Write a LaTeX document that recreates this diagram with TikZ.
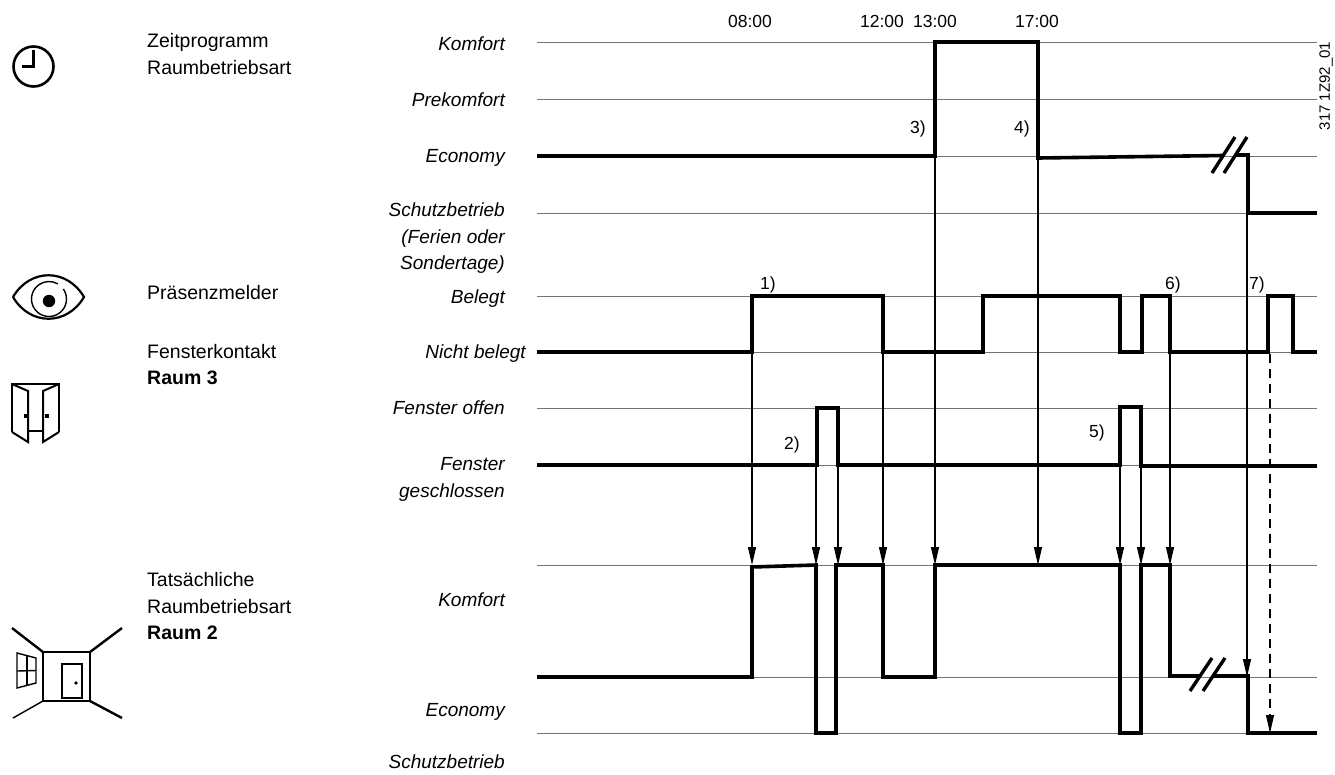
\documentclass[tikz,border=0pt]{standalone}
\usepackage{fontspec}
\setmainfont{Liberation Sans}
\usetikzlibrary{arrows.meta}
\begin{document}
\begin{tikzpicture}[x=1pt,y=-1pt,
  gridline/.style={draw=black!55, line width=1pt},
  sig/.style={draw=black, line width=3.6pt, line join=miter},
  brk/.style={draw=black, line width=3.4pt},
  trig/.style={draw=black, line width=1.1pt, -{Triangle[length=18pt,width=8pt]}},
  trigd/.style={trig, dash pattern=on 9pt off 6pt},
  lvl/.style={font=\fontsize{19}{22}\selectfont\itshape, anchor=base east, inner sep=0pt},
  ttl/.style={font=\fontsize{19.5}{22}\selectfont, anchor=base west, inner sep=0pt},
  tm/.style={font=\fontsize{17.5}{20}\selectfont, anchor=base, inner sep=0pt},
  icon/.style={draw=black, line width=2.6pt, line join=miter},
  thinicon/.style={draw=black, line width=1.4pt}
]
\useasboundingbox (0,0) rectangle (1335,774);

% ---- level lines ----
\foreach \y in {42,99,156,213,296,352,408,465,565,677,733}
  \draw[gridline] (537,\y) -- (1317,\y);

% ---- level names ----
\node[lvl] (zk)  at (505,50)  {Komfort};
\node[lvl] (zp)  at (505,106) {Prekomfort};
\node[lvl] (ze)  at (505,162) {Economy};
\node[lvl] (zs1) at (505,216) {Schutzbetrieb};
\node[lvl] (zs2) at (505,243) {(Ferien oder};
\node[lvl] (zs3) at (505,269) {Sondertage)};
\node[lvl] (pb)  at (505,303) {Belegt};
\node[lvl] (pn)  at (526,358) {Nicht belegt};
\node[lvl] (fo)  at (505,414) {Fenster offen};
\node[lvl] (fg1) at (505,470) {Fenster};
\node[lvl] (fg2) at (505,497) {geschlossen};
\node[lvl] (rk)  at (505,606) {Komfort};
\node[lvl] (re)  at (505,716) {Economy};
\node[lvl] (rs)  at (505,768) {Schutzbetrieb};

% ---- channel titles ----
\node[ttl] (t1a) at (147,47)  {Zeitprogramm};
\node[ttl] (t1b) at (147,74)  {Raumbetriebsart};
\node[ttl] (t2)  at (147,299) {Präsenzmelder};
\node[ttl] (t3a) at (147,358) {Fensterkontakt};
\node[ttl] (t3b) at (147,384) {\bfseries Raum 3};
\node[ttl] (t4a) at (147,586) {Tatsächliche};
\node[ttl] (t4b) at (147,613) {Raumbetriebsart};
\node[ttl] (t4c) at (147,639) {\bfseries Raum 2};

% ---- times ----
\node[tm] (h08) at (750,27)  {08:00};
\node[tm] (h12) at (882,27)  {12:00};
\node[tm] (h13) at (935,27)  {13:00};
\node[tm] (h17) at (1037,27) {17:00};

% ---- drawing number ----
\node[font=\fontsize{15}{17}\selectfont, rotate=90, inner sep=0pt] (ref) at (1326,86) {317 1Z92\_01};

% ---- event numbers ----
\node[tm] (e1) at (768,289)  {1)};
\node[tm] (e2) at (792,449)  {2)};
\node[tm] (e3) at (918,133)  {3)};
\node[tm] (e4) at (1022,133) {4)};
\node[tm] (e5) at (1097,437) {5)};
\node[tm] (e6) at (1173,289) {6)};
\node[tm] (e7) at (1257,289) {7)};

% ---- signal: time program ----
\draw[sig] (537,156) -- (935,156) -- (935,42) -- (1038,42) -- (1038,158) -- (1223,155.5);
\draw[sig] (1235,155) -- (1248,155) -- (1248,213) -- (1317,213);
\draw[brk] (1212,173) -- (1235,137);
\draw[brk] (1224,173) -- (1247,137);

% ---- signal: presence detector ----
\draw[sig] (537,352) -- (752,352) -- (752,296) -- (883,296) -- (883,352)
  -- (983,352) -- (983,296) -- (1120,296) -- (1120,352)
  -- (1142,352) -- (1142,296) -- (1170,296) -- (1170,352)
  -- (1268,352) -- (1268,296) -- (1293,296) -- (1293,352) -- (1317,352);

% ---- signal: window contact ----
\draw[sig] (537,465) -- (817,465) -- (817,408) -- (838,408) -- (838,465)
  -- (1120,465) -- (1120,407) -- (1141,407) -- (1141,466) -- (1317,466);

% ---- signal: effective room mode ----
\draw[sig] (537,677) -- (752,677) -- (752,567) -- (816,565) -- (816,733)
  -- (836,733) -- (836,565) -- (883,565) -- (883,677) -- (935,677)
  -- (935,565) -- (1120,565) -- (1120,733) -- (1141,733) -- (1141,565)
  -- (1170,565) -- (1170,676) -- (1199,676);
\draw[sig] (1213,676) -- (1248,676) -- (1248,733) -- (1317,733);
\draw[brk] (1190,691) -- (1212,658);
\draw[brk] (1203,691) -- (1225,658);

% ---- cause/effect arrows ----
\coordinate (a1s) at (752,352);  \coordinate (a1e) at (752,565);
\coordinate (a2s) at (816,465);  \coordinate (a2e) at (816,565);
\coordinate (a3s) at (838,465);  \coordinate (a3e) at (838,565);
\coordinate (a4s) at (883,352);  \coordinate (a4e) at (883,565);
\coordinate (a5s) at (935,156);  \coordinate (a5e) at (935,565);
\coordinate (a6s) at (1038,156); \coordinate (a6e) at (1038,565);
\coordinate (a7s) at (1120,465); \coordinate (a7e) at (1120,565);
\coordinate (a8s) at (1141,465); \coordinate (a8e) at (1141,565);
\coordinate (a9s) at (1170,352); \coordinate (a9e) at (1170,565);
\coordinate (a10s) at (1247,213); \coordinate (a10e) at (1247,677);
\coordinate (a11s) at (1270,354); \coordinate (a11e) at (1270,733);
\foreach \a in {a1,a2,a3,a4,a5,a6,a7,a8,a9,a10}
  \draw[trig] (\a s) -- (\a e);
\draw[trigd] (a11s) -- (a11e);

% ---- icon: clock ----
\draw[icon] (33.5,66.5) circle (20);
\draw[icon] (33.5,50) -- (33.5,66.5) -- (22,66.5);

% ---- icon: eye ----
\draw[icon, line width=2.2pt] (13,297) .. controls (30,268) and (67,268) .. (84,297)
  .. controls (67,326) and (30,326) .. (13,297);
\draw[thinicon] (49,299) ++(-35:17.5) arc (-35:300:17.5);
\fill (49,301) circle (6.2);

% ---- icon: door ----
\draw[icon, line width=2pt] (12,432) -- (12,384) -- (59,384) -- (59,432);
\draw[icon, line width=2pt] (12,384) -- (28,391) -- (28,442) -- (12,432);
\draw[icon, line width=2pt] (59,384) -- (43,391) -- (43,442) -- (59,432);
\draw[icon, line width=2pt] (28,431) -- (43,431);
\fill (23.5,414) rectangle (27,418);
\fill (45,414) rectangle (48.5,418);

% ---- icon: room ----
\draw[icon, line width=2.4pt] (43,652) rectangle (90,701);
\draw[icon, line width=2.4pt] (12,628) -- (43,652);
\draw[icon, line width=2.4pt] (90,652) -- (122,628);
\draw[icon, line width=2.4pt] (90,701) -- (122,718);
\draw[thinicon] (43,701) -- (13,718);
\draw[icon, line width=2pt] (62,699) -- (62,664) -- (82,664) -- (82,699);
\draw[thinicon] (64,664.5) -- (80,664.5);
\draw[icon, line width=2.6pt] (62,698) -- (82,698);
\fill (76,683) circle (1.8);
\draw[thinicon] (17,653) -- (36,658) -- (36,683) -- (17,688) -- cycle;
\draw[thinicon] (27,655.5) -- (27,685.5);
\draw[thinicon] (17,671) -- (36,670.5);
\end{tikzpicture}
\end{document}
